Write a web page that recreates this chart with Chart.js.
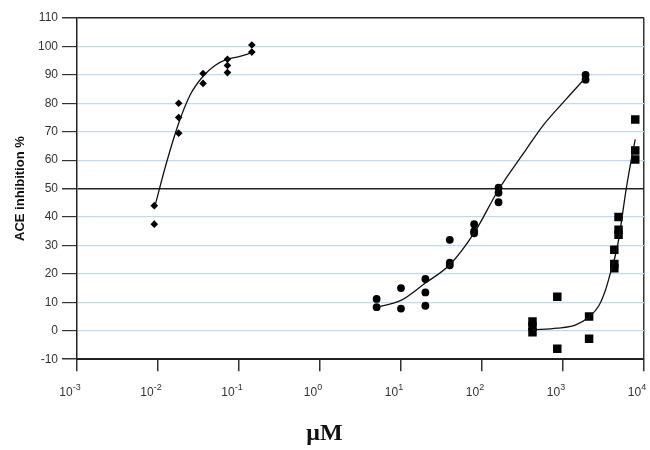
<!DOCTYPE html>
<html>
<head>
<meta charset="utf-8">
<script src="https://cdn.jsdelivr.net/npm/chart.js@4.4.0/dist/chart.umd.min.js"></script>
<style>
  html, body { margin: 0; padding: 0; background: #fff; }
  #wrap { width: 650px; height: 450px; }
</style>
</head>
<body>
<div id="wrap"><canvas id="chart"></canvas></div>
<script>
// diamonds (most potent compound)
const doseA = [0.009, 0.009, 0.018, 0.018, 0.018, 0.036, 0.036, 0.072, 0.072, 0.072, 0.144, 0.144];
const inhibA = [44, 37.5, 80, 75, 69.5, 90.5, 87, 95.5, 93.3, 90.8, 100.5, 98];
const fitAx = [0.009, 0.0127, 0.018, 0.025, 0.036, 0.05, 0.072, 0.1, 0.144];
const fitAy = [43, 59, 73, 83, 89.5, 93.2, 95.5, 96.4, 97.8];

// circles
const doseB = [5, 5, 10, 10, 20, 20, 20, 40, 40, 40, 80, 80, 80, 160, 160, 160, 1900, 1900];
const inhibB = [11.2, 8.3, 15, 7.8, 18.2, 13.5, 8.8, 32, 24, 23, 37.5, 35, 34.3, 50.3, 48.5, 45.2, 90, 88.3];
const fitBx = [5, 10, 20, 40, 80, 160, 350, 560, 1080, 1900];
const fitBy = [8.3, 10.7, 16.8, 23.2, 34.4, 49.6, 63.7, 72, 81.3, 89];

// squares
const doseC = [420, 420, 420, 850, 850, 2100, 2100, 4300, 4300, 4300, 4850, 4850, 4850, 7800, 7800, 7800];
const inhibC = [3.3, 1.5, -0.5, 12, -6.3, 5, -2.8, 28.5, 23.5, 22, 40, 35.5, 33.8, 74.3, 63.4, 60.2];
const fitCx = [420, 855, 1435, 2130, 2770, 3300, 3850, 4350, 4860, 6040, 7100, 7800];
const fitCy = [0.3, 0.9, 2.1, 5, 8.8, 13.8, 20.3, 25.6, 32, 50, 61.4, 67.3];

const xExponents = [-3, -2, -1, 0, 1, 2, 3, 4];
const yTicks = [-10, 0, 10, 20, 30, 40, 50, 60, 70, 80, 90, 100, 110];

function pairs(xs, ys) {
    return xs.map((x, i) => ({ x: x, y: ys[i] }));
}

function pointSet(xs, ys, style, radius) {
    return {
        data: pairs(xs, ys),
        showLine: false,
        pointStyle: style,
        pointRadius: radius,
        pointBackgroundColor: "#000",
        pointBorderColor: "#000",
        pointBorderWidth: 0,
    };
}

function fitSet(xs, ys) {
    return {
        data: pairs(xs, ys),
        showLine: true,
        borderColor: "#111",
        borderWidth: 1.3,
        pointRadius: 0,
        cubicInterpolationMode: "monotone",
        fill: false,
    };
}

const sansFont = '"Liberation Sans", Arial, sans-serif';

// x tick labels as 10 with a raised exponent
const powerLabels = {
    id: "powerLabels",
    afterDraw(chart) {
        const xs = chart.scales.x;
        const ctx = chart.ctx;
        ctx.save();
        ctx.fillStyle = "#333";
        ctx.textBaseline = "alphabetic";
        ctx.textAlign = "left";
        xExponents.forEach((e) => {
            const px = xs.getPixelForValue(Math.pow(10, e));
            ctx.font = "12px " + sansFont;
            const w1 = ctx.measureText("10").width;
            ctx.font = "9px " + sansFont;
            const w2 = ctx.measureText(String(e)).width;
            const left = px - 7 - (w1 + w2) / 2;
            ctx.font = "12px " + sansFont;
            ctx.fillText("10", left, 396);
            ctx.font = "9px " + sansFont;
            ctx.fillText(String(e), left + w1, 390);
        });
        ctx.restore();
    },
};

const ctx = document.getElementById("chart").getContext("2d");
new Chart(ctx, {
    type: "scatter",
    data: {
        datasets: [
            fitSet(fitAx, fitAy),
            fitSet(fitBx, fitBy),
            fitSet(fitCx, fitCy),
            pointSet(doseA, inhibA, "rectRot", 3.8),
            pointSet(doseB, inhibB, "circle", 3.9),
            pointSet(doseC, inhibC, "rect", 6),
        ],
    },
    options: {
        responsive: true,
        maintainAspectRatio: false,
        animation: false,
        layout: { padding: { top: 18, right: 1, left: 0, bottom: 0 } },
        plugins: {
            legend: { display: false },
            tooltip: { enabled: false },
            title: {
                display: true,
                position: "bottom",
                text: "\u03BCM",
                color: "#111",
                font: { family: '"Liberation Serif", "Times New Roman", serif', size: 24, weight: "bold" },
                padding: { top: 0, bottom: 2 },
            },
        },
        scales: {
            x: {
                type: "logarithmic",
                min: 0.001,
                max: 10000,
                afterBuildTicks: (scale) => {
                    scale.ticks = xExponents.map((e) => ({ value: Math.pow(10, e) }));
                },
                afterFit: (scale) => {
                    scale.height = 60;
                },
                ticks: { display: false },
                grid: {
                    drawOnChartArea: true,
                    color: (c) => (c.index === xExponents.length - 1 ? "#333" : "rgba(0,0,0,0)"),
                    tickColor: "#333",
                    tickLength: 12,
                    lineWidth: 1.5,
                },
                border: { display: true, color: "#222", width: 2 },
            },
            y: {
                min: -10,
                max: 110,
                afterBuildTicks: (scale) => {
                    scale.ticks = yTicks.map((v) => ({ value: v }));
                },
                afterFit: (scale) => {
                    scale.width = 77;
                },
                ticks: {
                    color: "#333",
                    padding: 4,
                    font: { family: sansFont, size: 12 },
                },
                grid: {
                    color: (c) => {
                        const v = c.tick ? c.tick.value : null;
                        return v === 50 || v === 110 || v === -10 ? "#222" : "#c2d9ea";
                    },
                    lineWidth: (c) => {
                        const v = c.tick ? c.tick.value : null;
                        return v === 50 || v === 110 || v === -10 ? 1.5 : 1.2;
                    },
                    tickColor: "#333",
                    tickLength: 15,
                },
                border: { display: true, color: "#222", width: 1.5 },
                title: {
                    display: true,
                    text: "ACE inhibition %",
                    color: "#111",
                    font: { family: sansFont, size: 13, weight: "bold" },
                    padding: { top: 13, bottom: 0 },
                },
            },
        },
    },
    plugins: [powerLabels],
});
</script>
</body>
</html>
